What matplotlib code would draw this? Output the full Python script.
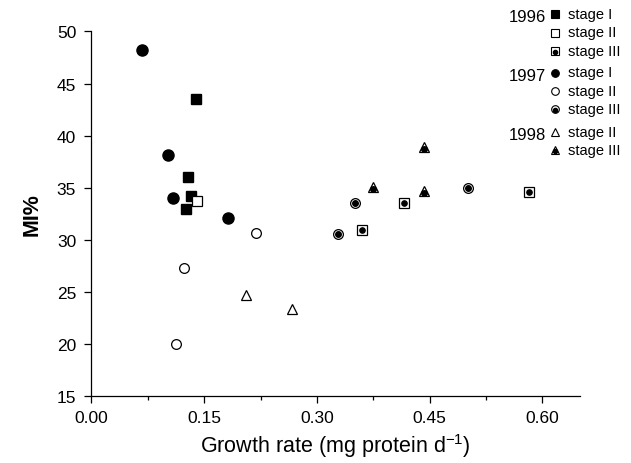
import matplotlib
matplotlib.use('Agg')
import matplotlib.pyplot as plt
from matplotlib.lines import Line2D
from matplotlib.ticker import MultipleLocator

plt.rcParams['font.family'] = ['Liberation Sans', 'DejaVu Sans']

# 1996
x96_1 = [0.1395, 0.128, 0.132, 0.126]
y96_1 = [43.5, 36.0, 34.2, 32.9]
x96_2 = [0.140]
y96_2 = [33.7]
x96_3 = [0.360, 0.416, 0.582]
y96_3 = [30.9, 33.5, 34.6]
# 1997
x97_1 = [0.067, 0.102, 0.1085, 0.182]
y97_1 = [48.2, 38.15, 34.0, 32.1]
x97_2 = [0.219, 0.123, 0.113]
y97_2 = [30.6, 27.25, 20.0]
x97_3 = [0.328, 0.351, 0.501]
y97_3 = [30.5, 33.5, 34.95]
# 1998
x98_2 = [0.206, 0.267]
y98_2 = [24.7, 23.3]
x98_3 = [0.443, 0.374, 0.443]
y98_3 = [38.9, 35.1, 34.65]

fig = plt.figure(figsize=(6.31, 4.64), dpi=100)
ax = fig.add_axes([0.145, 0.145, 0.774, 0.785])

k = 'black'
ax.plot(x96_1, y96_1, 's', ms=7, color=k, ls='none', clip_on=False)
ax.plot(x96_2, y96_2, 's', ms=6.5, mfc='white', mec=k, mew=0.9, ls='none')
ax.plot(x96_3, y96_3, 's', ms=7, mfc='white', mec=k, mew=0.9, ls='none')
ax.plot(x96_3, y96_3, 'o', ms=3.8, color=k, ls='none')
ax.plot(x97_1, y97_1, 'o', ms=8, color=k, ls='none', clip_on=False)
ax.plot(x97_2, y97_2, 'o', ms=7, mfc='white', mec=k, mew=0.9, ls='none')
ax.plot(x97_3, y97_3, 'o', ms=7, mfc='white', mec=k, mew=0.9, ls='none')
ax.plot(x97_3, y97_3, 'o', ms=4, color=k, ls='none')
ax.plot(x98_2, y98_2, '^', ms=7.5, mfc='white', mec=k, mew=0.9, ls='none')
ax.plot(x98_3, y98_3, '^', ms=7.5, mfc='white', mec=k, mew=0.9, ls='none')
ax.plot(x98_3, [v - 0.2 for v in y98_3], 'o', ms=4, color=k, ls='none')

ax.set_xlim(0, 0.65)
ax.set_ylim(15, 50)
ax.xaxis.set_minor_locator(MultipleLocator(0.075))
ax.yaxis.set_major_locator(MultipleLocator(5))
ax.set_xticks([0.0, 0.15, 0.30, 0.45, 0.60])
ax.set_xticklabels(['0.00', '0.15', '0.30', '0.45', '0.60'])
ax.spines['top'].set_visible(False)
ax.spines['right'].set_visible(False)
for s in ['left', 'bottom']:
    ax.spines[s].set_linewidth(0.9)
ax.tick_params(which='major', direction='out', length=5, width=0.9, labelsize=12.5)
ax.tick_params(axis='y', which='major', pad=6)
ax.tick_params(axis='x', which='major', pad=5)
ax.tick_params(which='minor', direction='out', length=3, width=0.9)
ax.tick_params(axis='y', which='minor', left=False)

ax.set_xlabel('Growth rate (mg protein d$^{\\mathregular{-1}}$)', fontsize=15.5, labelpad=5)
ax.set_ylabel('MI%', fontsize=15.5, fontweight='bold', labelpad=10)

# legend drawn by hand at the top right
H = 464.0
W = 631.0
def fx(px):
    return px / W
def fy(py):
    return 1 - py / H

rows = [
    ('1996', 15, 's', 'black', None, 'stage I'),
    (None, 33.5, 's', 'white', None, 'stage II'),
    (None, 52, 's', 'white', 'dot', 'stage III'),
    ('1997', 73.5, 'o', 'black', None, 'stage I'),
    (None, 92, 'o', 'white', None, 'stage II'),
    (None, 110, 'o', 'white', 'dot', 'stage III'),
    ('1998', 133, '^', 'white', None, 'stage II'),
    (None, 151, '^', 'white', 'dot', 'stage III'),
]
for year, py, mk, fc, dot, lab in rows:
    fig.add_artist(Line2D([fx(555)], [fy(py)], marker=mk, ms=5.5, mfc=fc, mec=k,
                          mew=0.8, ls='none'))
    if dot:
        fig.add_artist(Line2D([fx(555)], [fy(py + 0.5)], marker='o', ms=3, color=k, ls='none'))
    fig.text(fx(568), fy(py), lab, fontsize=10.5, ha='left', va='center')
    if year:
        fig.text(fx(546), fy(py + 3), year, fontsize=12, ha='right', va='center')

fig.savefig('out.png', dpi=100)
